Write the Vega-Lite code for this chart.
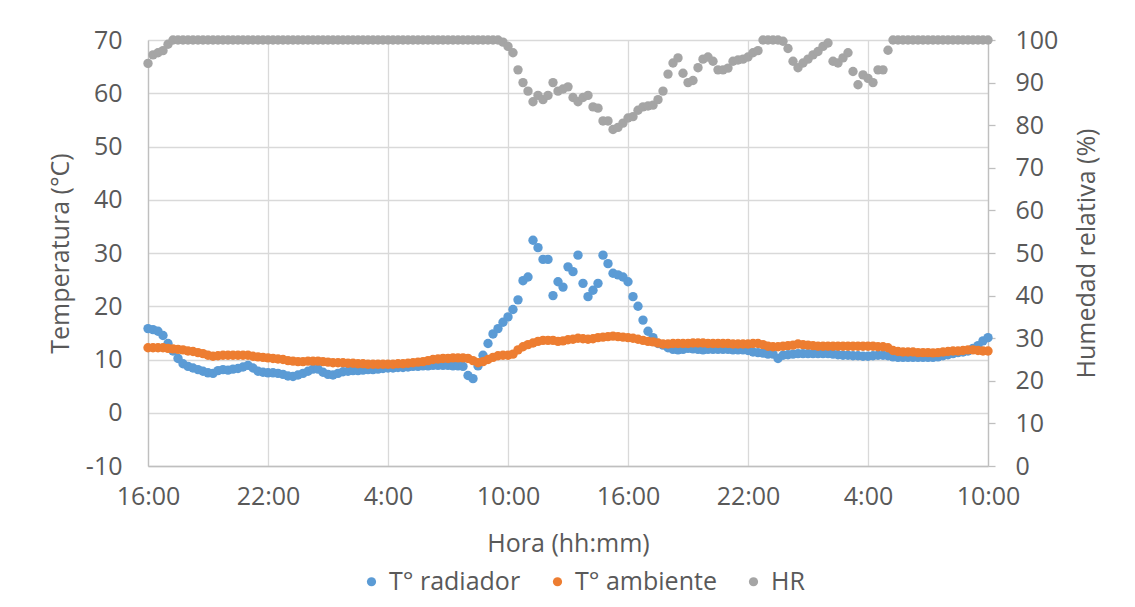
{
  "$schema": "https://vega.github.io/schema/vega-lite/v6.json",
  "width": 840,
  "height": 426,
  "autosize": {"type": "none"},
  "padding": {"left": 148, "top": 40, "right": 147, "bottom": 141},
  "config": {
    "font": "Open Sans",
    "view": {"stroke": null},
    "axis": {"labelFontSize": 25, "titleFontSize": 25, "labelColor": "#595959", "titleColor": "#595959", "titleFontWeight": "normal", "labelFont": "Open Sans", "titleFont": "Open Sans"},
    "legend": {"labelFont": "Open Sans"}
  },
  "data": {"values": [
    {"h":0,"rad":15.8,"amb":12.2,"hr":94.5},
    {"h":0.25,"rad":15.6,"amb":12.2,"hr":96.5},
    {"h":0.5,"rad":15.3,"amb":12.2,"hr":97},
    {"h":0.75,"rad":14.5,"amb":12.2,"hr":97.5},
    {"h":1,"rad":13.0,"amb":12.1,"hr":99},
    {"h":1.25,"rad":11.6,"amb":12.0,"hr":100},
    {"h":1.5,"rad":10.2,"amb":11.9,"hr":100},
    {"h":1.75,"rad":9.2,"amb":11.8,"hr":100},
    {"h":2,"rad":8.7,"amb":11.6,"hr":100},
    {"h":2.25,"rad":8.4,"amb":11.5,"hr":100},
    {"h":2.5,"rad":8.1,"amb":11.3,"hr":100},
    {"h":2.75,"rad":7.8,"amb":11.1,"hr":100},
    {"h":3,"rad":7.5,"amb":10.8,"hr":100},
    {"h":3.25,"rad":7.4,"amb":10.6,"hr":100},
    {"h":3.5,"rad":7.9,"amb":10.7,"hr":100},
    {"h":3.75,"rad":8.1,"amb":10.8,"hr":100},
    {"h":4,"rad":8.0,"amb":10.8,"hr":100},
    {"h":4.25,"rad":8.2,"amb":10.8,"hr":100},
    {"h":4.5,"rad":8.3,"amb":10.8,"hr":100},
    {"h":4.75,"rad":8.6,"amb":10.8,"hr":100},
    {"h":5,"rad":8.9,"amb":10.8,"hr":100},
    {"h":5.25,"rad":8.4,"amb":10.6,"hr":100},
    {"h":5.5,"rad":7.8,"amb":10.5,"hr":100},
    {"h":5.75,"rad":7.6,"amb":10.4,"hr":100},
    {"h":6,"rad":7.5,"amb":10.3,"hr":100},
    {"h":6.25,"rad":7.5,"amb":10.2,"hr":100},
    {"h":6.5,"rad":7.4,"amb":10.1,"hr":100},
    {"h":6.75,"rad":7.2,"amb":10.0,"hr":100},
    {"h":7,"rad":6.9,"amb":9.8,"hr":100},
    {"h":7.25,"rad":6.8,"amb":9.7,"hr":100},
    {"h":7.5,"rad":7.1,"amb":9.6,"hr":100},
    {"h":7.75,"rad":7.4,"amb":9.6,"hr":100},
    {"h":8,"rad":7.8,"amb":9.7,"hr":100},
    {"h":8.25,"rad":8.2,"amb":9.7,"hr":100},
    {"h":8.5,"rad":8.2,"amb":9.7,"hr":100},
    {"h":8.75,"rad":7.6,"amb":9.6,"hr":100},
    {"h":9,"rad":7.2,"amb":9.5,"hr":100},
    {"h":9.25,"rad":7.1,"amb":9.4,"hr":100},
    {"h":9.5,"rad":7.4,"amb":9.4,"hr":100},
    {"h":9.75,"rad":7.7,"amb":9.4,"hr":100},
    {"h":10,"rad":7.8,"amb":9.3,"hr":100},
    {"h":10.25,"rad":7.9,"amb":9.3,"hr":100},
    {"h":10.5,"rad":7.9,"amb":9.2,"hr":100},
    {"h":10.75,"rad":8.0,"amb":9.2,"hr":100},
    {"h":11,"rad":8.1,"amb":9.1,"hr":100},
    {"h":11.25,"rad":8.1,"amb":9.1,"hr":100},
    {"h":11.5,"rad":8.2,"amb":9.1,"hr":100},
    {"h":11.75,"rad":8.3,"amb":9.1,"hr":100},
    {"h":12,"rad":8.4,"amb":9.1,"hr":100},
    {"h":12.25,"rad":8.4,"amb":9.1,"hr":100},
    {"h":12.5,"rad":8.5,"amb":9.2,"hr":100},
    {"h":12.75,"rad":8.5,"amb":9.2,"hr":100},
    {"h":13,"rad":8.6,"amb":9.3,"hr":100},
    {"h":13.25,"rad":8.7,"amb":9.4,"hr":100},
    {"h":13.5,"rad":8.7,"amb":9.5,"hr":100},
    {"h":13.75,"rad":8.8,"amb":9.6,"hr":100},
    {"h":14,"rad":8.8,"amb":9.8,"hr":100},
    {"h":14.25,"rad":8.9,"amb":10.0,"hr":100},
    {"h":14.5,"rad":8.9,"amb":10.1,"hr":100},
    {"h":14.75,"rad":8.9,"amb":10.2,"hr":100},
    {"h":15,"rad":8.9,"amb":10.2,"hr":100},
    {"h":15.25,"rad":8.8,"amb":10.3,"hr":100},
    {"h":15.5,"rad":8.8,"amb":10.3,"hr":100},
    {"h":15.75,"rad":8.7,"amb":10.3,"hr":100},
    {"h":16,"rad":7.0,"amb":10.2,"hr":100},
    {"h":16.25,"rad":6.4,"amb":9.8,"hr":100},
    {"h":16.5,"rad":8.8,"amb":9.4,"hr":100},
    {"h":16.75,"rad":10.8,"amb":9.6,"hr":100},
    {"h":17,"rad":13.0,"amb":10.0,"hr":100},
    {"h":17.25,"rad":14.8,"amb":10.4,"hr":100},
    {"h":17.5,"rad":15.8,"amb":10.7,"hr":100},
    {"h":17.75,"rad":17.0,"amb":10.8,"hr":99.5},
    {"h":18,"rad":18.0,"amb":10.8,"hr":98.5},
    {"h":18.25,"rad":19.4,"amb":11.0,"hr":97},
    {"h":18.5,"rad":21.2,"amb":11.8,"hr":93},
    {"h":18.75,"rad":24.8,"amb":12.4,"hr":90},
    {"h":19,"rad":25.5,"amb":12.8,"hr":88},
    {"h":19.25,"rad":32.4,"amb":13.1,"hr":85.5},
    {"h":19.5,"rad":31.0,"amb":13.4,"hr":87},
    {"h":19.75,"rad":28.8,"amb":13.6,"hr":86},
    {"h":20,"rad":28.8,"amb":13.6,"hr":87},
    {"h":20.25,"rad":22.0,"amb":13.6,"hr":90},
    {"h":20.5,"rad":24.6,"amb":13.4,"hr":88},
    {"h":20.75,"rad":23.6,"amb":13.5,"hr":88.5},
    {"h":21,"rad":27.4,"amb":13.7,"hr":89},
    {"h":21.25,"rad":26.5,"amb":13.8,"hr":86.5},
    {"h":21.5,"rad":29.6,"amb":14.0,"hr":85.5},
    {"h":21.75,"rad":24.3,"amb":13.9,"hr":86.5},
    {"h":22,"rad":21.8,"amb":13.8,"hr":87},
    {"h":22.25,"rad":23.0,"amb":13.9,"hr":84.3},
    {"h":22.5,"rad":24.3,"amb":14.1,"hr":84},
    {"h":22.75,"rad":29.6,"amb":14.2,"hr":81},
    {"h":23,"rad":28.0,"amb":14.3,"hr":81},
    {"h":23.25,"rad":26.2,"amb":14.4,"hr":79},
    {"h":23.5,"rad":25.9,"amb":14.3,"hr":79.5},
    {"h":23.75,"rad":25.5,"amb":14.2,"hr":80.5},
    {"h":24,"rad":24.6,"amb":14.1,"hr":81.7},
    {"h":24.25,"rad":21.8,"amb":14.0,"hr":82},
    {"h":24.5,"rad":20.0,"amb":13.8,"hr":83.5},
    {"h":24.75,"rad":17.4,"amb":13.6,"hr":84.3},
    {"h":25,"rad":15.3,"amb":13.4,"hr":84.5},
    {"h":25.25,"rad":14.1,"amb":13.3,"hr":84.7},
    {"h":25.5,"rad":13.0,"amb":13.1,"hr":86},
    {"h":25.75,"rad":12.7,"amb":12.9,"hr":88},
    {"h":26,"rad":12.2,"amb":12.9,"hr":92},
    {"h":26.25,"rad":11.9,"amb":13.0,"hr":94.6},
    {"h":26.5,"rad":11.8,"amb":13.0,"hr":95.8},
    {"h":26.75,"rad":11.9,"amb":13.0,"hr":92.2},
    {"h":27,"rad":12.1,"amb":13.0,"hr":90},
    {"h":27.25,"rad":12.0,"amb":13.1,"hr":90.5},
    {"h":27.5,"rad":11.9,"amb":13.1,"hr":93.5},
    {"h":27.75,"rad":11.8,"amb":13.1,"hr":95.5},
    {"h":28,"rad":11.9,"amb":13.0,"hr":96},
    {"h":28.25,"rad":11.9,"amb":13.0,"hr":95},
    {"h":28.5,"rad":11.9,"amb":13.0,"hr":93},
    {"h":28.75,"rad":11.9,"amb":13.0,"hr":93},
    {"h":29,"rad":11.9,"amb":13.0,"hr":93.4},
    {"h":29.25,"rad":11.8,"amb":12.9,"hr":95},
    {"h":29.5,"rad":11.8,"amb":12.9,"hr":95.3},
    {"h":29.75,"rad":11.8,"amb":12.9,"hr":95.5},
    {"h":30,"rad":11.7,"amb":12.9,"hr":96},
    {"h":30.25,"rad":11.4,"amb":13.0,"hr":97},
    {"h":30.5,"rad":11.3,"amb":13.0,"hr":97.5},
    {"h":30.75,"rad":11.2,"amb":12.8,"hr":100},
    {"h":31,"rad":11.0,"amb":12.5,"hr":100},
    {"h":31.25,"rad":11.0,"amb":12.4,"hr":100},
    {"h":31.5,"rad":10.2,"amb":12.4,"hr":100},
    {"h":31.75,"rad":10.8,"amb":12.5,"hr":99.7},
    {"h":32,"rad":10.9,"amb":12.6,"hr":98},
    {"h":32.25,"rad":11.0,"amb":12.7,"hr":95},
    {"h":32.5,"rad":11.1,"amb":12.9,"hr":93.5},
    {"h":32.75,"rad":11.1,"amb":12.8,"hr":94.6},
    {"h":33,"rad":11.1,"amb":12.7,"hr":95.5},
    {"h":33.25,"rad":11.1,"amb":12.6,"hr":96.5},
    {"h":33.5,"rad":11.1,"amb":12.5,"hr":97.3},
    {"h":33.75,"rad":11.1,"amb":12.5,"hr":98.5},
    {"h":34,"rad":11.1,"amb":12.5,"hr":99.3},
    {"h":34.25,"rad":11.0,"amb":12.5,"hr":95},
    {"h":34.5,"rad":10.9,"amb":12.5,"hr":94.6},
    {"h":34.75,"rad":10.8,"amb":12.5,"hr":95.8},
    {"h":35,"rad":10.8,"amb":12.5,"hr":97},
    {"h":35.25,"rad":10.7,"amb":12.5,"hr":92.6},
    {"h":35.5,"rad":10.7,"amb":12.5,"hr":89.5},
    {"h":35.75,"rad":10.6,"amb":12.5,"hr":91.8},
    {"h":36,"rad":10.6,"amb":12.5,"hr":91},
    {"h":36.25,"rad":10.7,"amb":12.5,"hr":90},
    {"h":36.5,"rad":10.8,"amb":12.4,"hr":93},
    {"h":36.75,"rad":10.8,"amb":12.4,"hr":93},
    {"h":37,"rad":10.7,"amb":12.2,"hr":97.6},
    {"h":37.25,"rad":10.5,"amb":11.7,"hr":100},
    {"h":37.5,"rad":10.4,"amb":11.5,"hr":100},
    {"h":37.75,"rad":10.4,"amb":11.4,"hr":100},
    {"h":38,"rad":10.4,"amb":11.4,"hr":100},
    {"h":38.25,"rad":10.4,"amb":11.4,"hr":100},
    {"h":38.5,"rad":10.4,"amb":11.3,"hr":100},
    {"h":38.75,"rad":10.4,"amb":11.3,"hr":100},
    {"h":39,"rad":10.4,"amb":11.3,"hr":100},
    {"h":39.25,"rad":10.4,"amb":11.25,"hr":100},
    {"h":39.5,"rad":10.5,"amb":11.3,"hr":100},
    {"h":39.75,"rad":10.7,"amb":11.4,"hr":100},
    {"h":40,"rad":10.9,"amb":11.5,"hr":100},
    {"h":40.25,"rad":11.1,"amb":11.6,"hr":100},
    {"h":40.5,"rad":11.3,"amb":11.6,"hr":100},
    {"h":40.75,"rad":11.4,"amb":11.7,"hr":100},
    {"h":41,"rad":11.6,"amb":11.8,"hr":100},
    {"h":41.25,"rad":12.1,"amb":11.8,"hr":100},
    {"h":41.5,"rad":12.6,"amb":11.7,"hr":100},
    {"h":41.75,"rad":13.5,"amb":11.6,"hr":100},
    {"h":42,"rad":14.1,"amb":11.6,"hr":100}
  ]},
  "encoding": {
    "x": {
      "field": "h", "type": "quantitative",
      "scale": {"domain": [0, 42], "nice": false, "zero": false},
      "axis": {
        "values": [0, 6, 12, 18, 24, 30, 36, 42],
        "labelExpr": "((datum.value + 16) % 24) + ':00'",
        "grid": true, "gridColor": "#d9d9d9", "gridWidth": 1.3,
        "ticks": false, "domainColor": "#bfbfbf", "domainWidth": 1.3,
        "labelPadding": 18, "labelFlush": false,
        "title": "Hora (hh:mm)", "titlePadding": 22
      }
    }
  },
  "layer": [
    {
      "layer": [
        {
          "mark": {"type": "circle", "size": 88, "opacity": 1},
          "encoding": {
            "y": {
              "field": "rad", "type": "quantitative",
              "scale": {"domain": [-10, 70], "nice": false, "zero": false},
              "axis": {
                "orient": "left", "values": [-10, 0, 10, 20, 30, 40, 50, 60, 70],
                "labelExpr": "'' + datum.value",
                "grid": true, "gridColor": "#d9d9d9", "gridWidth": 1.3,
                "ticks": false, "domainColor": "#bfbfbf", "domainWidth": 1.3,
                "labelPadding": 26, "title": "Temperatura (°C)", "titlePadding": 12
              }
            },
            "color": {
              "datum": "T° radiador", "type": "nominal",
              "scale": {"domain": ["T° radiador", "T° ambiente", "HR"], "range": ["#5B9BD5", "#ED7D31", "#A5A5A5"]},
              "legend": {
                "orient": "none", "legendX": 211, "legendY": 529, "direction": "horizontal",
                "title": null, "symbolType": "circle", "symbolSize": 85, "symbolStrokeWidth": 0,
                "labelFontSize": 25, "labelColor": "#595959", "labelOffset": 5, "columnPadding": 24, "padding": 0
              }
            }
          }
        },
        {
          "mark": {"type": "circle", "size": 88, "opacity": 1},
          "encoding": {
            "y": {"field": "amb", "type": "quantitative"},
            "color": {"datum": "T° ambiente", "type": "nominal"}
          }
        }
      ]
    },
    {
      "mark": {"type": "circle", "size": 88, "opacity": 1},
      "encoding": {
        "y": {
          "field": "hr", "type": "quantitative",
          "scale": {"domain": [0, 100], "nice": false, "zero": false},
          "axis": {
            "orient": "right", "values": [0, 10, 20, 30, 40, 50, 60, 70, 80, 90, 100],
            "grid": false, "ticks": true, "tickSize": 7, "tickColor": "#bfbfbf", "tickWidth": 1.3,
            "domainColor": "#bfbfbf", "domainWidth": 1.3,
            "labelPadding": 20, "title": "Humedad relativa (%)", "titleAngle": 270, "titlePadding": 42
          }
        },
        "color": {"datum": "HR", "type": "nominal"}
      }
    }
  ],
  "resolve": {"scale": {"y": "independent"}}
}
